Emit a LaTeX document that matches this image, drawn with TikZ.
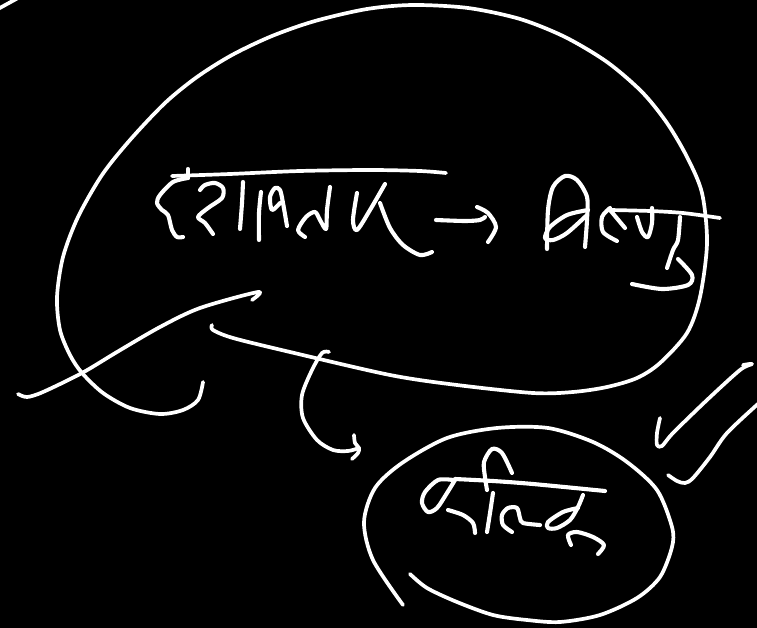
\documentclass[tikz,border=0pt]{standalone}
\tikzset{ink/.style={draw=white,line width=3.7pt,line cap=round,line join=round},
 thin ink/.style={ink,line width=4.1pt}}
\newcommand{\stroke}[2][ink]{\draw[#1] plot[smooth,tension=.5] coordinates {#2};}
\begin{document}
\begin{tikzpicture}[x=1pt,y=-1pt]
\fill[black] (0,0) rectangle (757,628);
\useasboundingbox (0,0) rectangle (757,628);
% corner
\draw[ink] (-2,9) -- (18,-2);
% big blob
\stroke{(203,382)(198,400)(183,410)(160,414)(130,408)(103,393)(82,373)(70,355)(60,330)(57,297)(63,257)(78,217)(102,175)(130,140)(165,103)(197,77)(232,55)(272,36)(315,21)(367,9)(413,5)(468,8)(520,19)(565,37)(607,62)(642,92)(667,123)(687,157)(702,193)(707,243)(700,297)(687,333)(660,363)(637,378)(607,387)(573,392)(533,393)(457,385)(390,375)(290,352)(233,338)(213,330)(212,325)}
% crossing stroke
\stroke{(18,394)(27,397)(43,392)(82,373)(117,352)(160,327)(200,308)(258,292)(252,300)}
% arrow to circle
\stroke{(329,352)(322,353)(312,370)(302,395)(303,418)(317,440)(333,450)(348,451)(359,448)}
\stroke{(354,435)(355,443)(359,448)(358,453)(352,459)}
% circle
\stroke{(403,605)(373,560)(364,522)(375,488)(402,463)(447,438)(497,428)(548,428)(593,442)(627,462)(657,490)(672,527)(672,547)(660,577)(637,598)(600,615)(560,622)(527,620)(493,615)(457,602)(427,588)(410,574)}
% ticks
\stroke{(660,418)(657,433)(657,445)(662,446)(673,433)(707,400)(740,370)(752,364)(743,365)}
\stroke{(668,475)(677,481)(685,483)(693,478)(710,457)(727,433)(759,403)}
% word 1
\stroke{(172,176)(230,174)(300,171)(370,170)(420,171)(446,173)}
\stroke[thin ink]{(188,169)(188,178)}
\stroke[thin ink]{(188,178)(173,182)(160,195)(157,203)(162,210)(168,215)(172,230)(177,237)(183,237)}
\stroke[thin ink]{(200,190)(205,185)(215,183)(223,188)(222,198)(208,208)(198,217)(205,223)(213,234)}
\stroke[thin ink]{(243,182)(242,203)(240,229)}
\stroke[thin ink]{(261,192)(259,213)(259,240)}
\stroke[thin ink]{(287,226)(283,203)(280,190)(275,188)(270,197)(272,210)(280,203)}
\stroke[thin ink]{(305,237)(298,230)(306,217)(315,212)(320,220)(326,229)(327,210)(330,187)}
\stroke[thin ink]{(357,193)(353,220)(357,230)(370,210)(385,184)}
\stroke[thin ink]{(380,203)(390,228)(403,245)(420,255)(432,252)}
% arrow in text
\stroke[thin ink]{(436,220)(465,221)(480,220)(485,217)}
\stroke[thin ink]{(477,207)(488,213)(496,227)(488,242)}
% word 2
\stroke[thin ink]{(547,249)(548,210)(553,187)(565,176)(577,180)(587,197)(587,220)(585,247)}
\stroke[thin ink]{(588,210)(567,215)(550,227)(545,238)(553,240)(567,233)(587,215)}
\stroke[thin ink]{(610,208)(602,217)(603,232)(617,241)}
\stroke[thin ink]{(610,210)(625,228)}
\stroke{(610,210)(650,211)(683,213)(720,218)}
\stroke[thin ink]{(637,217)(642,232)(648,237)(652,223)(652,208)}
\stroke[thin ink]{(680,217)(678,240)(673,250)(667,268)}
\stroke[thin ink]{(678,259)(692,275)(688,285)(662,289)(632,284)}
% word 3
\stroke[thin ink]{(455,479)(493,481)(533,484)(605,491)}
\stroke[thin ink]{(453,480)(438,480)(425,492)(422,503)(428,512)(437,508)(447,493)(455,480)}
\stroke[thin ink]{(448,510)(463,515)(473,523)(475,533)}
\stroke[thin ink]{(493,493)(490,513)(487,532)}
\stroke[thin ink]{(487,490)(485,477)(484,462)(492,449)(502,453)(512,473)}
\stroke[thin ink]{(512,532)(503,525)(502,515)(508,508)(517,508)(520,518)(523,523)(540,525)}
\stroke[thin ink]{(578,508)(563,512)(548,522)(548,528)(557,528)(570,520)(578,507)(583,495)}
\stroke[thin ink]{(571,545)(568,535)(577,532)(593,537)(604,545)(598,554)}
\end{tikzpicture}
\end{document}
